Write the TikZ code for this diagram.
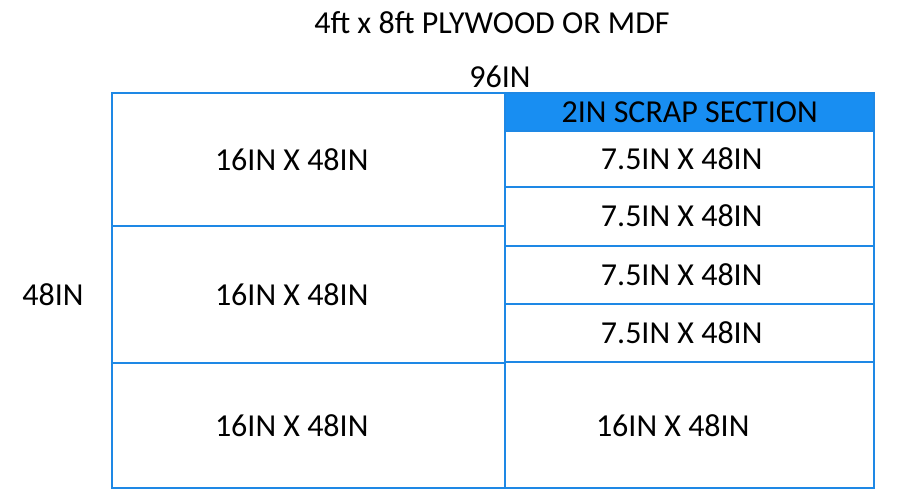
\documentclass[tikz,border=0pt]{standalone}
\usepackage{fontspec}
\setmainfont{Carlito}
\usepackage{xcolor}
\definecolor{cutline}{RGB}{30,136,229}
\definecolor{scrap}{RGB}{24,142,242}
\usetikzlibrary{positioning}

\begin{document}
\begin{tikzpicture}
	[x=1pt,y=-1pt,
	every node/.style={font=\fontsize{32}{38}\selectfont,inner sep=0pt},
	piece/.style 2 args={draw=cutline,line width=2.4pt,rectangle,anchor=north west,
		minimum width=#1,minimum height=#2}]
	\useasboundingbox (0,0) rectangle (906,500);
	% sheet title and sizes
	\node (title) at (492,23) {4ft x 8ft PLYWOOD OR MDF};
	\node (width) at (500,77) {96IN};
	\node (height) at (53,295) {48IN};
	% left column
	\node[piece={393}{133}] (l1) at (111,92) {};
	\node[piece={393}{137}] (l2) at (111,225) {};
	\node[piece={393}{125}] (l3) at (111,362) {};
	% right column
	\node[piece={369}{38},fill=scrap] (hdr) at (504,92) {2IN SCRAP SECTION};
	\node[piece={369}{56}] (r1) at (504,130) {};
	\node[piece={369}{59}] (r2) at (504,186) {};
	\node[piece={369}{58}] (r3) at (504,245) {};
	\node[piece={369}{58}] (r4) at (504,303) {};
	\node[piece={369}{126}] (r5) at (504,361) {};
	% off-centre labels
	\node at ([xshift=-17pt]l1.center) {16IN X 48IN};
	\node at ([xshift=-17pt]l2.center) {16IN X 48IN};
	\node at ([xshift=-17pt]l3.center) {16IN X 48IN};
	\foreach \r in {r1,r2,r3,r4}
		\node at ([xshift=-8pt,yshift=1pt]\r.center) {7.5IN X 48IN};
	\node at ([xshift=-17pt]r5.center) {16IN X 48IN};
\end{tikzpicture}
\end{document}
